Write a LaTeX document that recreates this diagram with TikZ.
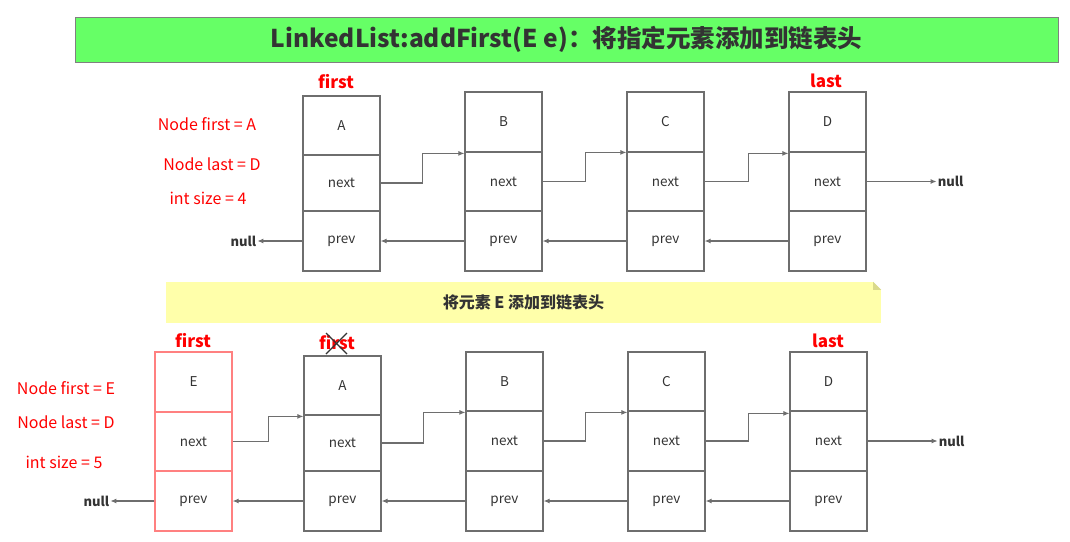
\documentclass[tikz,border=0pt]{standalone}
\usepackage{fontspec}
\setmainfont{Noto Sans CJK SC}
\usetikzlibrary{arrows.meta, positioning}

\definecolor{titlegreen}{HTML}{66FF66}
\definecolor{titleframe}{HTML}{808080}
\definecolor{notebg}{HTML}{FFFFAA}
\definecolor{notefold}{HTML}{D9D98C}
\definecolor{boxgray}{HTML}{6E6E6E}
\definecolor{textgray}{HTML}{333333}
\definecolor{newred}{HTML}{FF8080}

\tikzset{
  cell/.style={draw=boxgray, line width=1.2pt, minimum width=77pt, inner sep=0pt,
    text=textgray, font=\fontsize{13.5}{13.5}\selectfont},
  newcell/.style={cell, draw=newred},
  ptr/.style={draw=boxgray, line width=1.1pt, -{Latex[length=6pt,width=5pt]}},
  nulltext/.style={text=textgray, inner sep=1pt, font=\fontsize{13}{13}\selectfont\bfseries},
  reflabel/.style={text=red, inner sep=0pt, font=\fontsize{17}{17}\selectfont\bfseries},
  infotext/.style={text=red, inner sep=0pt, font=\fontsize{16}{16}\selectfont},
  titlebox/.style={draw=titleframe, fill=titlegreen, line width=1pt, minimum width=983pt,
    minimum height=45pt, text=textgray, font=\fontsize{24.5}{24.5}\selectfont\bfseries},
  notebox/.style={fill=notebg, minimum width=715pt, minimum height=41pt, inner sep=0pt,
    text=textgray, font=\fontsize{16}{16}\selectfont\bfseries}
}

\begin{document}
\begin{tikzpicture}[x=1pt, y=-1pt]
  \useasboundingbox (0,0) rectangle (1070,541);

  \node[titlebox] (title) at (566.5,39.5) {LinkedList:addFirst(E e)：将指定元素添加到链表头};

  \node[infotext] (info1a) at (207,124) {Node first = A};
  \node[infotext] (info1b) at (212,164) {Node last = D};
  \node[infotext] (info1c) at (208,198) {int size = 4};

  \node[cell, minimum height=59pt] (A1) at (341.5,125.5) {A};
  \node[cell, minimum height=56pt] (A1next) at (341.5,183) {next};
  \node[cell, minimum height=60pt] (A1prev) at (341.5,241) {prev};
  \node[cell, minimum height=60pt] (B1) at (503.5,122) {B};
  \node[cell, minimum height=59pt] (B1next) at (503.5,181.5) {next};
  \node[cell, minimum height=60pt] (B1prev) at (503.5,241) {prev};
  \node[cell, minimum height=60pt] (C1) at (665.5,122) {C};
  \node[cell, minimum height=59pt] (C1next) at (665.5,181.5) {next};
  \node[cell, minimum height=60pt] (C1prev) at (665.5,241) {prev};
  \node[cell, minimum height=60pt] (D1) at (827.5,122) {D};
  \node[cell, minimum height=59pt] (D1next) at (827.5,181.5) {next};
  \node[cell, minimum height=60pt] (D1prev) at (827.5,241) {prev};

  \node[reflabel] (first1) at (336,82) {first};
  \node[reflabel] (last1) at (826,81) {last};
  \node[nulltext, left=45pt of A1prev] (null1l) {null};
  \node[nulltext, right=70pt of D1next] (null1r) {null};

  \draw[ptr] (A1next.east) -- ++(42,0) |- ([yshift=-2pt]B1next.north west);
  \draw[ptr] (B1next.east) -- ++(43,0) |- ([yshift=-1pt]C1next.north west);
  \draw[ptr] (C1next.east) -- ++(44,0) |- ([yshift=-2pt]D1next.north west);
  \draw[ptr] (D1next.east) -- (null1r.west);
  \draw[ptr] (D1prev.west) -- (C1prev.east);
  \draw[ptr] (C1prev.west) -- (B1prev.east);
  \draw[ptr] (B1prev.west) -- (A1prev.east);
  \draw[ptr] (A1prev.west) -- (null1l.east);

  \node[notebox] (note) at (523.5,302.5) {将元素 E 添加到链表头};
  \fill[white] (note.north east) -- ++(-8,0) -- ++(8,8) -- cycle;
  \fill[notefold] ([xshift=-8pt]note.north east) -- ++(0,8) -- ++(8,0) -- cycle;

  \node[infotext] (info2a) at (66,388) {Node first = E};
  \node[infotext] (info2b) at (66,422) {Node last = D};
  \node[infotext] (info2c) at (64,462) {int size = 5};

  \node[newcell, minimum height=60pt] (E2) at (193.5,382) {E};
  \node[newcell, minimum height=59pt] (E2next) at (193.5,441.5) {next};
  \node[newcell, minimum height=60pt] (E2prev) at (193.5,501) {prev};
  \node[cell, minimum height=59pt] (A2) at (342.5,385.5) {A};
  \node[cell, minimum height=56pt] (A2next) at (342.5,443) {next};
  \node[cell, minimum height=60pt] (A2prev) at (342.5,501) {prev};
  \node[cell, minimum height=59pt] (B2) at (504.5,381.5) {B};
  \node[cell, minimum height=60pt] (B2next) at (504.5,441) {next};
  \node[cell, minimum height=60pt] (B2prev) at (504.5,501) {prev};
  \node[cell, minimum height=59pt] (C2) at (666.5,381.5) {C};
  \node[cell, minimum height=60pt] (C2next) at (666.5,441) {next};
  \node[cell, minimum height=60pt] (C2prev) at (666.5,501) {prev};
  \node[cell, minimum height=59pt] (D2) at (828.5,381.5) {D};
  \node[cell, minimum height=60pt] (D2next) at (828.5,441) {next};
  \node[cell, minimum height=60pt] (D2prev) at (828.5,501) {prev};

  \node[reflabel] (first2) at (193,341) {first};
  \node[reflabel] (oldfirst) at (337,343) {first};
  \draw[textgray, line width=1.3pt] (oldfirst.center) ++(-11,-10) -- ++(21,21)
    (oldfirst.center) ++(10,-10) -- ++(-21,21);
  \node[reflabel] (last2) at (828,341) {last};
  \node[nulltext, left=44pt of E2prev] (null2l) {null};
  \node[nulltext, right=70pt of D2next] (null2r) {null};

  \draw[ptr] (E2next.east) -- ++(36,0) |- ([yshift=-2pt]A2next.north west);
  \draw[ptr] (A2next.east) -- ++(42,0) |- ([yshift=-2pt]B2next.north west);
  \draw[ptr] (B2next.east) -- ++(42,0) |- ([yshift=-2pt]C2next.north west);
  \draw[ptr] (C2next.east) -- ++(43,0) |- ([yshift=-3pt]D2next.north west);
  \draw[ptr] (D2next.east) -- (null2r.west);
  \draw[ptr] (D2prev.west) -- (C2prev.east);
  \draw[ptr] (C2prev.west) -- (B2prev.east);
  \draw[ptr] (B2prev.west) -- (A2prev.east);
  \draw[ptr] (A2prev.west) -- (E2prev.east);
  \draw[ptr] (E2prev.west) -- (null2l.east);
\end{tikzpicture}
\end{document}
